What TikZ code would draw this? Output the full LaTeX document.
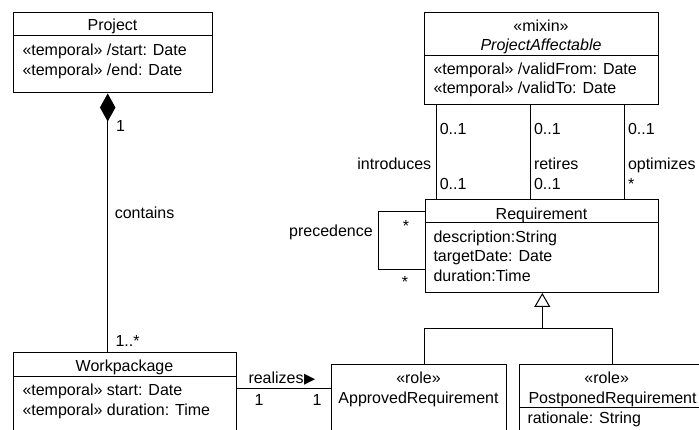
\documentclass[tikz,border=0pt]{standalone}
\usepackage{fontspec}
\setmainfont{Liberation Sans}
\newfontfamily\dvfont{DejaVu Sans}
\usetikzlibrary{calc,arrows.meta}
\begin{document}
\begin{tikzpicture}[x=1pt,y=-1pt,
  font=\fontsize{16}{19}\selectfont,
  line width=1pt,
  umlbox/.style={draw, line width=1pt, inner sep=0pt, anchor=north west, rectangle},
  lw/.style={inner sep=0pt, anchor=base west},
  le/.style={inner sep=0pt, anchor=base east},
  lc/.style={inner sep=0pt, anchor=base},
  conn/.style={draw, line width=1pt}]
\useasboundingbox (0,0) rectangle (699,430);
\clip (0,0) rectangle (699,430);
\fill[white] (0,0) rectangle (699,430);

% ---------- boxes ----------
\node[umlbox, minimum width=199pt, minimum height=80.5pt] (project) at (13,12) {};
\node[umlbox, minimum width=234pt, minimum height=92pt] (pa) at (424,12) {};
\node[umlbox, minimum width=233pt, minimum height=93pt] (req) at (425,199) {};
\node[umlbox, minimum width=223pt, minimum height=95pt] (wp) at (13,352.5) {};
\node[umlbox, minimum width=175pt, minimum height=85pt] (appr) at (331,364) {};
\node[umlbox, minimum width=200pt, minimum height=85pt] (post) at (518.5,364) {};

% compartment separators
\draw ($(project.north west)+(0,24)$) -- ($(project.north east)+(0,24)$);
\draw ($(pa.north west)+(0,44)$) -- ($(pa.north east)+(0,44)$);
\draw ($(req.north west)+(0,24)$) -- ($(req.north east)+(0,24)$);
\draw ($(wp.north west)+(0,23.5)$) -- ($(wp.north east)+(0,23.5)$);
\draw ($(post.north west)+(0,43.5)$) -- ($(post.north east)+(0,43.5)$);

% ---------- box texts ----------
\node[lc] (tproject) at (112.5,31) {Project};
\node[lw] (tpa1) at (22,56) {«temporal» /start: Date};
\node[lw] (tpa2) at (22,76) {«temporal» /end: Date};

\node[lc] (tmixin) at (541,32) {«mixin»};
\node[lc] (tpaname) at (541,51) {\itshape ProjectAffectable};
\node[lw] (tpaa1) at (433,75) {«temporal» /validFrom: Date};
\node[lw] (tpaa2) at (433,94) {«temporal» /validTo: Date};

\node[lc] (treq) at (541.5,220) {Requirement};
\node[lw] (treq1) at (433,243) {description:String};
\node[lw] (treq2) at (433,262) {targetDate: Date};
\node[lw] (treq3) at (433,282) {duration:Time};

\node[lc] (twp) at (124.5,371.5) {Workpackage};
\node[lw] (twp1) at (22,395.5) {«temporal» start: Date};
\node[lw] (twp2) at (22,415.5) {«temporal» duration: Time};

\node[lc] (tar1) at (418.5,384) {«role»};
\node[lc] (tar2) at (418.5,403) {ApprovedRequirement};

\node[lc] (tpr1) at (606.7,384) {«role»};
\node[lw] (tpr2) at (528,403) {PostponedRequirement};
\node[lw] (tpr3) at (527,423) {rationale: String};

% ---------- composition ----------
\coordinate (compTop) at ($(project.south west)+(94.7,0)$);
\coordinate (compBot) at (compTop |- wp.north);
\draw[{Diamond[length=28pt,width=15.5pt,fill=black]}-] (compTop) -- (compBot);
\node[lw] (m1) at (115.7,132) {1};
\node[lw] (mcont) at (114.3,219) {contains};
\node[lw] (m2) at (115,346.7) {1..*};

% ---------- realizes ----------
\coordinate (realA) at ($(wp.north east)+(0,35.5)$);
\coordinate (realB) at (realA -| appr.west);
\draw (realA) -- (realB);
\node[lw] (trealizes) at (248,383.3) {realizes\kern0.5pt{\dvfont\fontsize{14.5}{16}\selectfont ▶}};
\node[lw] (r1) at (254,405) {1};
\node[lw] (r2) at (312,405) {1};

% ---------- three associations ----------
\foreach \dx/\nm in {12/a, 106.3/b, 200.3/c} {
  \coordinate (top\nm) at ($(pa.south west)+(\dx,0)$);
  \coordinate (bot\nm) at (top\nm |- req.north);
  \draw (top\nm) -- (bot\nm);
}
\node[lw] (ia) at (439.3,135) {0..1};
\node[lw] (ib) at (533.5,135) {0..1};
\node[lw] (ic) at (627.5,135) {0..1};
\node[le] (intro) at (431.7,170) {introduces};
\node[lw] (ret) at (533.5,170) {retires};
\node[lw] (opt) at (627.5,170) {optimizes};
\node[lw] (ja) at (439.3,190) {0..1};
\node[lw] (jb) at (533.5,190) {0..1};
\node[lw] (jc) at (627.5,190) {*};

% ---------- precedence self-loop ----------
\coordinate (loopA) at ($(req.north west)+(0,13)$);
\coordinate (loopB) at ($(req.north west)+(0,71)$);
\draw (loopA) -- ++(-47,0) |- (loopB);
\node[le] (prec) at (373.3,236.7) {precedence};
\node[lc] (s1) at (406,231.5) {*};
\node[lc] (s2) at (405,288) {*};

% ---------- generalization ----------
\coordinate (genApex) at ($(req.south west)+(117.3,0)$);
\coordinate (genJoin) at (genApex |- 0,329);
\coordinate (genL) at ($(appr.north west)+(93,0)$);
\coordinate (genR) at ($(post.north west)+(94.2,0)$);
\draw (genL) -- (genL |- genJoin) -- (genR |- genJoin) -- (genR);
\draw[-{Triangle[open,length=14pt,width=16pt,fill=white]}] (genJoin) -- (genApex);
\end{tikzpicture}
\end{document}
